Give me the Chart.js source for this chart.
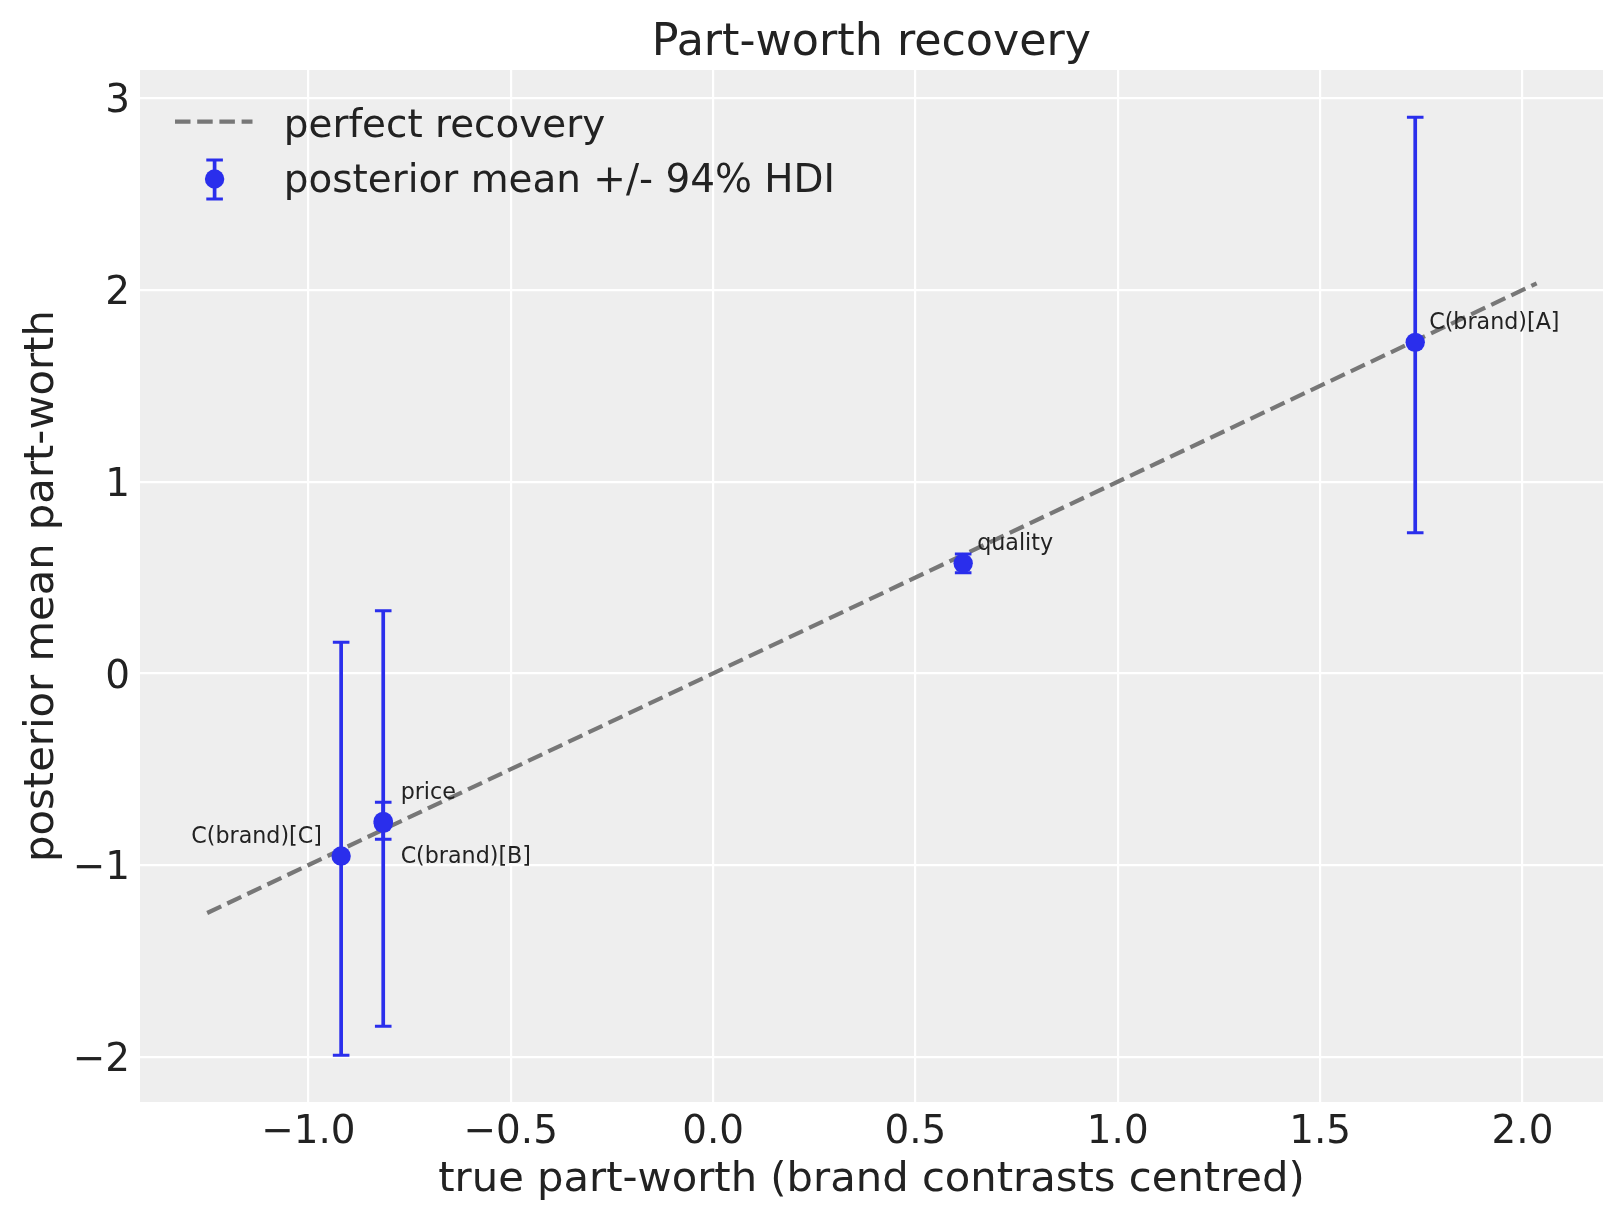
<!DOCTYPE html>
<html><head><meta charset="utf-8">
<script src="https://cdn.jsdelivr.net/npm/chart.js@4.4.1/dist/chart.umd.min.js"></script>
<style>html,body{margin:0;padding:0;background:#fff}canvas{display:block}</style>
</head><body>
<canvas id="c" width="1623" height="1223"></canvas>
<script>
// ---- data ----
const labels    = ["C(brand)[A]", "C(brand)[B]", "C(brand)[C]", "price", "quality"];
const trueWorth = [1.735, -0.815, -0.919, -0.815, 0.618];
const postMean  = [1.727, -0.782, -0.953, -0.772, 0.574];
const hdiLow    = [0.734, -1.841, -1.992, -0.865, 0.525];
const hdiHigh   = [2.901, 0.327, 0.162, -0.672, 0.623];
const refLine   = [-1.25, 2.035];
const xTicks    = [-1.0, -0.5, 0.0, 0.5, 1.0, 1.5, 2.0];
const yTicks    = [-2, -1, 0, 1, 2, 3];
const xLimits   = [-1.416, 2.199];
const yLimits   = [-2.236, 3.148];
const titleText = "Part-worth recovery";
const xLabel    = "true part-worth (brand contrasts centred)";
const yLabel    = "posterior mean part-worth";
const legendLine = "perfect recovery";
const legendPts  = "posterior mean +/- 94% HDI";

// ---- style / layout ----
const FONT = "'DejaVu Sans', sans-serif";
const TEXT = "#222222";
const BLUE = "#2a2eec";
const GREY = "#777777";
const DASH = [15.5, 6.7];
const labelLayout = {
  "C(brand)[A]": {dx: 14,    dy: -13,   align: "left"},
  "C(brand)[B]": {dx: 17.4,  dy: 40,    align: "left"},
  "C(brand)[C]": {dx: -19.3, dy: -12.7, align: "right"},
  "price":       {dx: 17.4,  dy: -22,   align: "left"},
  "quality":     {dx: 14,    dy: -13,   align: "left"}
};
const fmtMinus = s => s.replace("-", "\u2212");

const bgPlugin = {
  id: "bg",
  beforeDraw(chart) {
    const {ctx, chartArea: a} = chart;
    ctx.save();
    ctx.fillStyle = "#eeeeee";
    ctx.fillRect(a.left, a.top, a.right - a.left, a.bottom - a.top);
    ctx.restore();
  }
};

function drawErrorBar(ctx, x, yTop, yBot, half) {
  ctx.beginPath();
  ctx.lineWidth = 3.7;
  ctx.moveTo(x, yTop); ctx.lineTo(x, yBot);
  ctx.stroke();
  ctx.beginPath();
  ctx.lineWidth = 3;
  ctx.moveTo(x - half, yTop); ctx.lineTo(x + half, yTop);
  ctx.moveTo(x - half, yBot); ctx.lineTo(x + half, yBot);
  ctx.stroke();
}

const errPlugin = {
  id: "errbars",
  afterDatasetDraw(chart, args) {
    if (args.index !== 0) return;
    const {ctx, scales: {x, y}} = chart;
    ctx.save();
    ctx.strokeStyle = BLUE;
    for (let i = 0; i < labels.length; i++) {
      drawErrorBar(ctx, x.getPixelForValue(trueWorth[i]),
        y.getPixelForValue(hdiHigh[i]), y.getPixelForValue(hdiLow[i]), 8.3);
    }
    ctx.restore();
  },
  afterDraw(chart) {
    const {ctx, scales: {x, y}, chartArea: a} = chart;
    ctx.save();
    // point annotations
    ctx.fillStyle = TEXT;
    ctx.font = "22.2px " + FONT;
    ctx.textBaseline = "alphabetic";
    for (let i = 0; i < labels.length; i++) {
      const L = labelLayout[labels[i]];
      ctx.textAlign = L.align;
      ctx.fillText(labels[i], x.getPixelForValue(trueWorth[i]) + L.dx,
        y.getPixelForValue(postMean[i]) + L.dy);
    }
    // legend
    const lx = a.left;
    ctx.strokeStyle = GREY;
    ctx.lineWidth = 4.2;
    ctx.setLineDash(DASH);
    ctx.beginPath();
    ctx.moveTo(lx + 35, 121.7); ctx.lineTo(lx + 112.5, 121.7);
    ctx.stroke();
    ctx.setLineDash([]);
    ctx.strokeStyle = BLUE;
    drawErrorBar(ctx, lx + 74.6, 160, 199, 8.3);
    ctx.fillStyle = BLUE;
    ctx.beginPath(); ctx.arc(lx + 74.6, 179, 9.7, 0, Math.PI * 2); ctx.fill();
    ctx.fillStyle = TEXT;
    ctx.font = "38.9px " + FONT;
    ctx.textAlign = "left";
    ctx.fillText(legendLine, lx + 143.8, 136.5);
    ctx.fillText(legendPts, lx + 143.8, 192);
    ctx.restore();
  }
};

new Chart(document.getElementById("c"), {
  type: "scatter",
  data: {
    datasets: [
      {
        type: "line",
        label: legendLine,
        data: refLine.map(v => ({x: v, y: v})),
        borderColor: GREY,
        borderWidth: 4.2,
        borderDash: DASH,
        pointRadius: 0,
        fill: false,
        order: 2
      },
      {
        type: "scatter",
        label: legendPts,
        data: trueWorth.map((v, i) => ({x: v, y: postMean[i]})),
        backgroundColor: BLUE,
        borderWidth: 0,
        pointRadius: 9.7,
        pointHoverRadius: 9.7,
        order: 1
      }
    ]
  },
  options: {
    responsive: false,
    devicePixelRatio: 1,
    animation: false,
    events: [],
    layout: {padding: {left: 0, right: 20, top: 0, bottom: 0}},
    plugins: {
      legend: {display: false},
      tooltip: {enabled: false},
      title: {
        display: true,
        fullSize: false,
        text: titleText,
        color: TEXT,
        font: {family: FONT, size: 44.4, weight: "normal", lineHeight: 1.2},
        padding: {top: 16.5, bottom: 0.2}
      }
    },
    scales: {
      x: {
        type: "linear",
        min: xLimits[0], max: xLimits[1],
        afterBuildTicks(s) { s.ticks = xTicks.map(v => ({value: v})); },
        afterFit(s) { s.height = 121; },
        ticks: {
          callback: v => fmtMinus(Number(v).toFixed(1)),
          color: TEXT, padding: 8,
          font: {family: FONT, size: 38.9},
          maxRotation: 0, autoSkip: false
        },
        grid: {color: "#ffffff", lineWidth: 2.2, drawTicks: false},
        border: {display: false},
        title: {
          display: true, text: xLabel, color: TEXT,
          font: {family: FONT, size: 41.7, lineHeight: 1.2},
          padding: {top: 0, bottom: 17.6}
        }
      },
      y: {
        type: "linear",
        min: yLimits[0], max: yLimits[1],
        afterBuildTicks(s) { s.ticks = yTicks.map(v => ({value: v})); },
        afterFit(s) { s.width = 140; },
        ticks: {
          callback: v => fmtMinus(String(v)),
          color: TEXT, padding: 10, labelOffset: 4,
          font: {family: FONT, size: 38.9},
          autoSkip: false
        },
        grid: {color: "#ffffff", lineWidth: 2.2, drawTicks: false},
        border: {display: false},
        title: {
          display: true, text: yLabel, color: TEXT,
          font: {family: FONT, size: 41.7, lineHeight: 1.2},
          padding: {top: 17, bottom: 0}
        }
      }
    }
  },
  plugins: [bgPlugin, errPlugin]
});
</script>
</body></html>
